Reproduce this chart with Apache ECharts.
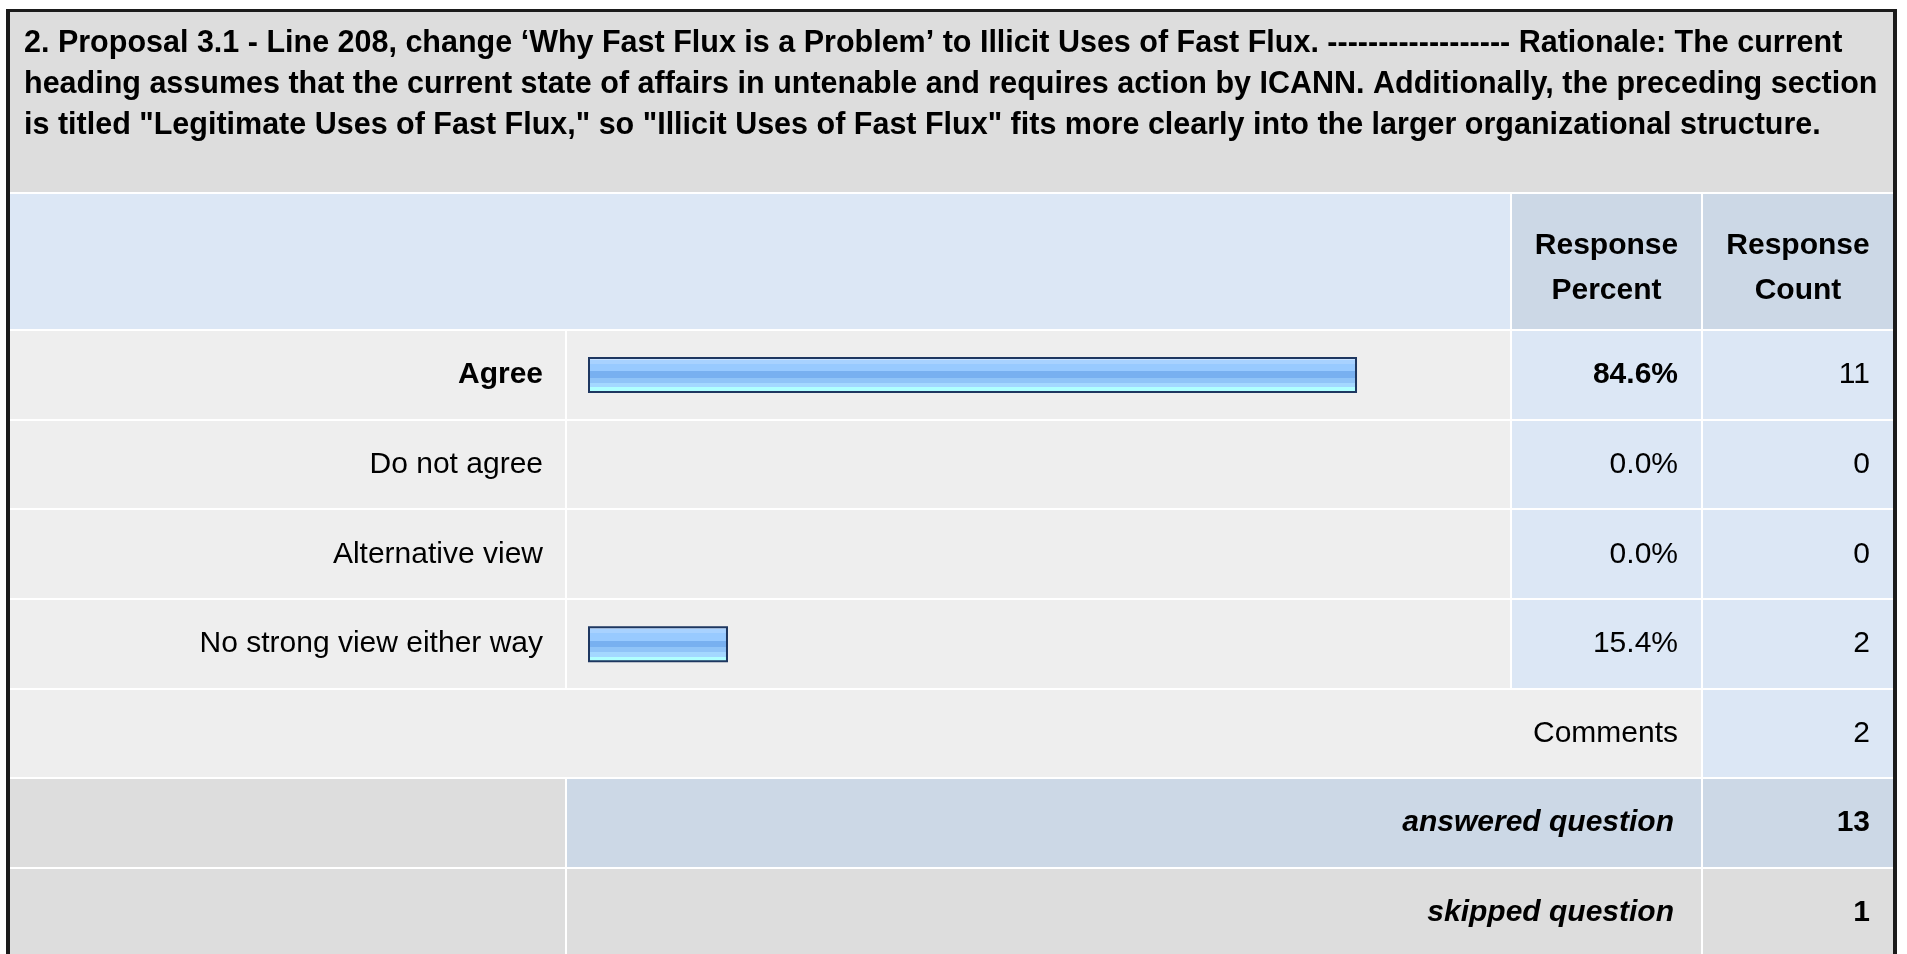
<!DOCTYPE html>
<html><head><meta charset="utf-8">
<style>html,body{margin:0;padding:0;background:#fff;}#c{width:1907px;height:954px;}</style>
<script src="https://cdn.jsdelivr.net/npm/echarts@6/dist/echarts.min.js"></script>
</head><body><div id="c"></div>
<script>
// ---- data ----
const titleLines = [
  "2. Proposal 3.1 - Line 208, change \u2018Why Fast Flux is a Problem\u2019 to Illicit Uses of Fast Flux. ------------------ Rationale: The current",
  "heading assumes that the current state of affairs in untenable and requires action by ICANN. Additionally, the preceding section",
  "is titled \"Legitimate Uses of Fast Flux,\" so \"Illicit Uses of Fast Flux\" fits more clearly into the larger organizational structure."
];
const headerPercent = "Response\nPercent";
const headerCount = "Response\nCount";
const categories = ["Agree", "Do not agree", "Alternative view", "No strong view either way"];
const percents = [84.6, 0.0, 0.0, 15.4];
const counts = [11, 0, 0, 2];
const commentsLabel = "Comments";
const commentsCount = 2;
const answeredLabel = "answered question";
const answeredCount = 13;
const skippedLabel = "skipped question";
const skippedCount = 1;

// ---- layout ----
const FF = '"Liberation Sans", Arial, sans-serif';
const FS = 30;
const L0 = 10, L1 = 565, B0 = 567, B1 = 1510, P0 = 1512, P1 = 1701, C0 = 1703, C1 = 1893;
const rowTops = [331, 421, 510, 600, 690, 779, 869, 959];
const GRAY = '#DDDDDD', LGRAY = '#EEEEEE', LBLUE = '#DCE7F5', MBLUE = '#CCD8E6';
const topIdx = percents.indexOf(Math.max.apply(null, percents));

const chart = echarts.init(document.getElementById('c'));

const barGrad = new echarts.graphic.LinearGradient(0, 0, 0, 1, [
  {offset: 0.00, color: '#C8E2FF'}, {offset: 0.08, color: '#C8E2FF'},
  {offset: 0.08, color: '#A8D2FF'}, {offset: 0.19, color: '#A8D2FF'},
  {offset: 0.19, color: '#98CAFF'}, {offset: 0.40, color: '#98CAFF'},
  {offset: 0.40, color: '#78B0F0'}, {offset: 0.58, color: '#78B0F0'},
  {offset: 0.58, color: '#90C4F8'}, {offset: 0.72, color: '#90C4F8'},
  {offset: 0.72, color: '#A4D8FF'}, {offset: 0.85, color: '#A4D8FF'},
  {offset: 0.85, color: '#B0FFFF'}, {offset: 1.00, color: '#B0FFFF'}
]);

chart.setOption({
  animation: false,
  grid: {left: 588, width: 909, top: 330, height: 359, containLabel: false},
  xAxis: {type: 'value', min: 0, max: 100, show: false},
  yAxis: {
    type: 'category', data: categories, inverse: true,
    axisLine: {show: false}, axisTick: {show: false}, splitLine: {show: false},
    axisLabel: {
      margin: 45, fontSize: FS, fontFamily: FF, color: '#000',
      formatter: function (v, i) { return i === topIdx ? '{b|' + v + '}' : v; },
      rich: {b: {fontWeight: 'bold', fontSize: FS, fontFamily: FF, color: '#000'}}
    },
    z: 5
  },
  series: [{
    type: 'bar', barWidth: 36, z: 5,
    data: percents.map(v => v > 0 ? v : {value: v, itemStyle: {borderWidth: 0}}),
    itemStyle: {color: barGrad, borderColor: '#1E3760', borderWidth: 2}
  }]
});

function rect(x0, y0, x1, y1, fill) {
  return {type: 'rect', z: -10, silent: true, shape: {x: x0, y: y0, width: x1 - x0, height: y1 - y0}, style: {fill: fill}};
}
function txt(s, x, y, align, weight, style, lh, fs) {
  return {type: 'text', z: 100, silent: true, x: x, y: y, style: {
    text: s, fill: '#000', fontSize: fs || FS, fontFamily: FF, fontWeight: weight || 'normal',
    fontStyle: style || 'normal', align: align, verticalAlign: 'middle', lineHeight: lh || FS * 1.2
  }};
}

const g = [];
g.push(rect(6, 9, 1897, 970, '#1B1B1B'));
g.push(rect(L0, 12, C1, 970, '#FFFFFF'));
g.push(rect(L0, 12, C1, 192, GRAY));
g.push(rect(L0, 194, B1, 329, LBLUE));
g.push(rect(P0, 194, P1, 329, MBLUE));
g.push(rect(C0, 194, C1, 329, MBLUE));
for (let i = 0; i < categories.length; i++) {
  const t = rowTops[i], b = rowTops[i + 1] - 2;
  g.push(rect(L0, t, L1, b, LGRAY));
  g.push(rect(B0, t, B1, b, LGRAY));
  g.push(rect(P0, t, P1, b, LBLUE));
  g.push(rect(C0, t, C1, b, LBLUE));
}
// comments row
let t = rowTops[4], b = rowTops[5] - 2;
g.push(rect(L0, t, P1, b, LGRAY));
g.push(rect(C0, t, C1, b, LBLUE));
// answered row
t = rowTops[5]; b = rowTops[6] - 2;
g.push(rect(L0, t, L1, b, GRAY));
g.push(rect(B0, t, P1, b, MBLUE));
g.push(rect(C0, t, C1, b, MBLUE));
// skipped row
t = rowTops[6]; b = 970;
g.push(rect(L0, t, L1, b, GRAY));
g.push(rect(B0, t, P1, b, GRAY));
g.push(rect(C0, t, C1, b, GRAY));

// texts
g.push(txt(titleLines.join('\n'), 24, 85, 'left', 'bold', 'normal', 41, 30.5));
g.push(txt(headerPercent, (P0 + P1) / 2, 268, 'center', 'bold', 'normal', 45));
g.push(txt(headerCount, (C0 + C1) / 2, 268, 'center', 'bold', 'normal', 45));
const PX = P1 - 23, CX = C1 - 23;
categories.forEach(function (c, i) {
  const y = chart.convertToPixel({yAxisIndex: 0}, c);
  g.push(txt(percents[i].toFixed(1) + '%', PX, y, 'right', i === topIdx ? 'bold' : 'normal'));
  g.push(txt(String(counts[i]), CX, y, 'right', 'normal'));
});
function mid(i) { return (rowTops[i] + rowTops[i + 1] - 2) / 2; }
g.push(txt(commentsLabel, PX, mid(4), 'right', 'normal'));
g.push(txt(String(commentsCount), CX, mid(4), 'right', 'normal'));
g.push(txt(answeredLabel, PX - 4, mid(5), 'right', 'bold', 'italic'));
g.push(txt(String(answeredCount), CX, mid(5), 'right', 'bold'));
g.push(txt(skippedLabel, PX - 4, mid(6), 'right', 'bold', 'italic'));
g.push(txt(String(skippedCount), CX, mid(6), 'right', 'bold'));

chart.setOption({graphic: {elements: g}});
</script>
</body></html>
